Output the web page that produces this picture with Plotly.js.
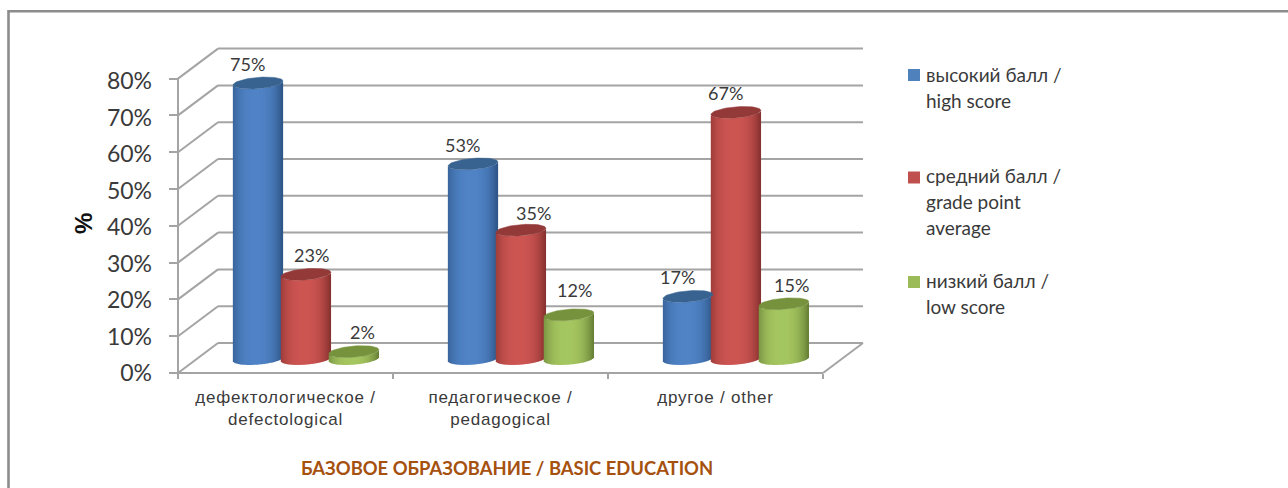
<!DOCTYPE html>
<html>
<head>
<meta charset="utf-8">
<script src="https://cdn.plot.ly/plotly-3.0.1.min.js"></script>
<style>html,body{margin:0;padding:0;background:#fff;overflow:hidden}#c{width:1288px;height:488px}
.xtick text{letter-spacing:.8px}</style>
</head>
<body>
<div id="c"></div>
<script>
// ---- data ----
const categories = ['дефектологическое /<br>defectological', 'педагогическое /<br>pedagogical', 'другое / other'];
const seriesNames = ['высокий балл /<br>high score', 'средний балл /<br>grade point<br>average', 'низкий балл /<br>low score'];
const highScore = [75, 53, 17];
const gradeAverage = [23, 35, 67];
const lowScore = [2, 12, 15];
const yTicks = [0, 10, 20, 30, 40, 50, 60, 70, 80];
const xAxisTitle = 'БАЗОВОЕ ОБРАЗОВАНИЕ / BASIC EDUCATION';
const yAxisTitle = '%';

// ---- styling / layout constants ----
const W = 1288, H = 488;
const pxX = 215, pxY = 3.68;            // pixels per x unit / per y percent
const originX = 178, originY = 373;     // pixel position of the front axis corner
const plotL = 174, plotR = 870, plotT = 44, plotB = 380;
const depthX = 40 / pxX, depthY = 30 / pxY;
const baseLift = 14 / pxY;
const seriesOffset = [0.372, 0.595, 0.818];
const radiusA = 25, radiusB = 5.6, tilt = 0.08;
const palette = [
  {edge: [44, 84, 132], mid: [80, 131, 198], cap: '#386391', legend: '#4F81BD'},
  {edge: [132, 48, 46], mid: [205, 85, 82], cap: '#933A38', legend: '#C0504D'},
  {edge: [100, 125, 52], mid: [165, 198, 96], cap: '#76923C', legend: '#9BBB59'}
];
const labelShiftX = [[-10, -10, -10], [6, 13, -10], [9, 6, 8]];
const labelShiftY = [[19, 19, 19], [19, 17, 19], [20, 25, 19]];
const gridColor = '#A4A4A4', textColor = '#3A3A3A';
const sans = 'Liberation Sans, Arial, sans-serif';
const cal = 'Lato, "Noto Sans", sans-serif';

const allSeries = [highScore, gradeAverage, lowScore];
const hexMix = (a, b, f) => 'rgb(' + a.map((v, i) => Math.round(v + (b[i] - v) * f)).join(',') + ')';
const lowerEdge = u => (radiusB * Math.sqrt(Math.max(0, 1 - (u / radiusA) ** 2)) - tilt * u) / pxY;

const traces = [];
// cylinder bodies: each bar is built of 1px strips so it can carry a horizontal gradient
allSeries.forEach((vals, s) => {
  const x = [], y = [], base = [], color = [];
  vals.forEach((v, c) => {
    for (let u = -radiusA + 0.5; u < radiusA; u += 1) {
      const t = Math.abs(u / radiusA + 0.08) / 1.08;
      x.push(c + seriesOffset[s] + u / pxX);
      y.push(v);
      base.push(baseLift - lowerEdge(u));
      color.push(hexMix(palette[s].mid, palette[s].edge, Math.pow(t, 2.6)));
    }
  });
  traces.push({type: 'bar', name: seriesNames[s].replace(/<br>/g, ' '), x, y, base, width: 1.25 / pxX,
    marker: {color, line: {width: 0}}, showlegend: false, hoverinfo: 'skip'});
});
// cylinder caps
allSeries.forEach((vals, s) => {
  vals.forEach((v, c) => {
    const x = [], y = [];
    for (let k = 0; k <= 64; k++) {
      const a = k / 64 * 2 * Math.PI;
      const u = radiusA * Math.cos(a), w = radiusB * Math.sin(a);
      x.push(c + seriesOffset[s] + u / pxX);
      y.push(baseLift + v + (w + tilt * u) / pxY);
    }
    traces.push({type: 'scatter', mode: 'lines', x, y, fill: 'toself', fillcolor: palette[s].cap,
      line: {color: palette[s].cap, width: 0.5}, showlegend: false, hoverinfo: 'skip', xaxis: 'x', yaxis: 'y'});
  });
});
// dummy trace keeps the label axis alive
traces.push({type: 'scatter', mode: 'none', x: [0], y: [0], xaxis: 'x', yaxis: 'y2', showlegend: false, hoverinfo: 'skip'});

// walls and floor
const gridLine = (x0, y0, x1, y1) => ({type: 'line', layer: 'below', xref: 'x', yref: 'y', x0, y0, x1, y1,
  line: {color: gridColor, width: 2}});
const shapes = [];
yTicks.forEach(v => {
  shapes.push(gridLine(depthX, v + depthY, categories.length + depthX, v + depthY));
  shapes.push(gridLine(0, v, depthX, v + depthY));
});
shapes.push(gridLine(categories.length, 0, categories.length + depthX, depthY));
shapes.push(gridLine(0, 0, categories.length, 0));
shapes.push(gridLine(0, 0, 0, yTicks[yTicks.length - 1]));
// frame
const px = v => v / W, py = v => 1 - v / H;
const frameLine = (a, b, c, d) => ({type: 'line', layer: 'below', xref: 'paper', yref: 'paper',
  x0: px(a), y0: py(b), x1: px(c), y1: py(d), line: {color: '#8C8C8C', width: 2.6}});
shapes.push(frameLine(8.5, 11.3, W, 11.3));
shapes.push(frameLine(8.5, 10, 8.5, H));

const annotations = [];
// value labels
allSeries.forEach((vals, s) => vals.forEach((v, c) => annotations.push({
  xref: 'x', yref: 'y', x: c + seriesOffset[s], y: baseLift + v, text: v + '%', showarrow: false,
  xanchor: 'center', yanchor: 'middle', xshift: labelShiftX[s][c], yshift: labelShiftY[s][c],
  font: {family: cal, size: 18, color: textColor}
})));
// legend
const legendFirstLine = [74, 176, 280];
seriesNames.forEach((name, s) => {
  name.split('<br>').forEach((line, i) => annotations.push({
    xref: 'paper', yref: 'paper', x: px(923.5), y: py(legendFirstLine[s] + 26 * i), text: line, showarrow: false,
    xanchor: 'left', yanchor: 'middle', font: {family: cal, size: 19, color: textColor}
  }));
  const my = legendFirstLine[s] + 1 + 0.5 * s;
  shapes.push({type: 'rect', xref: 'paper', yref: 'paper', x0: px(908), x1: px(920), y0: py(my - 6), y1: py(my + 6),
    fillcolor: palette[s].legend, line: {width: 0}});
});
// axis titles
annotations.push({xref: 'paper', yref: 'paper', x: px(506.5), y: py(467.5), text: '<b>' + xAxisTitle + '</b>', showarrow: false,
  xanchor: 'center', yanchor: 'middle', font: {family: cal, size: 18.4, color: '#A5510F'}});
annotations.push({xref: 'paper', yref: 'paper', x: px(83), y: py(224), text: '<b>' + yAxisTitle + '</b>', showarrow: false,
  textangle: -90, xanchor: 'center', yanchor: 'middle', font: {family: sans, size: 24, color: '#111'}});

const layout = {
  width: W, height: H, margin: {l: 0, r: 0, t: 0, b: 0}, paper_bgcolor: '#fff', plot_bgcolor: 'rgba(0,0,0,0)',
  barmode: 'overlay', showlegend: false, shapes, annotations,
  xaxis: {
    domain: [px(plotL), px(plotR)], range: [(plotL - originX) / pxX, (plotR - originX) / pxX],
    anchor: 'free', position: 1 - originY / H, showgrid: false, zeroline: false, showline: false,
    tickmode: 'array', tickvals: categories.map((_, i) => i + 0.5), ticktext: categories, ticks: '',
    ticklabelstandoff: 12, tickfont: {family: sans, size: 17, color: textColor},
    minor: {tickmode: 'array', tickvals: [0, 1, 2, 3], ticks: 'outside', ticklen: 5, tickwidth: 2, tickcolor: gridColor, showgrid: false}
  },
  yaxis: {
    domain: [1 - plotB / H, 1 - plotT / H], range: [(originY - plotB) / pxY, (originY - plotT) / pxY],
    anchor: 'free', position: px(originX), showgrid: false, zeroline: false, showline: false,
    tickmode: 'array', tickvals: yTicks, showticklabels: false, ticks: 'outside', ticklen: 9, tickwidth: 2, tickcolor: gridColor
  },
  yaxis2: {
    overlaying: 'y', domain: [1 - plotB / H, 1 - plotT / H], range: [(originY - plotB) / 3.65, (originY - plotT) / 3.65],
    anchor: 'free', position: px(originX), side: 'left', showgrid: false, zeroline: false, showline: false,
    tickmode: 'array', tickvals: yTicks, ticktext: yTicks.map(v => v + '%'), ticks: '', ticklabelstandoff: 26,
    tickfont: {family: cal, size: 23, color: textColor}
  }
};
Plotly.newPlot('c', traces, layout, {staticPlot: true, displayModeBar: false});
</script>
</body>
</html>
